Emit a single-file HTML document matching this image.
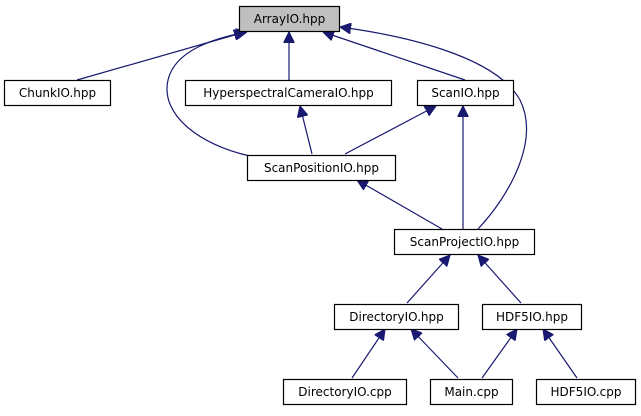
<!DOCTYPE html>
<html><head><meta charset="utf-8"><style>
html,body{margin:0;padding:0;background:#fff;}
svg text{font-family:"DejaVu Sans","Liberation Sans",sans-serif;font-size:12px;fill:#000;text-anchor:middle;}
</style></head><body>
<svg width="641" height="411" viewBox="0 0 641 411" xmlns="http://www.w3.org/2000/svg">
<defs>
<marker id="a" viewBox="0 0 10 10" refX="10" refY="5" markerWidth="11" markerHeight="11" markerUnits="userSpaceOnUse" orient="auto">
<path d="M0,0 L10,5 L0,10 z" fill="#191970" stroke="#191970"/>
</marker>
</defs>
<g fill="none" stroke="#191970" stroke-width="1.2" marker-end="url(#a)">
<path d="M77,80 L245,32"/>
<path d="M250,156 C200,145 160,115 168,80 C175,50 215,38 247,32"/>
<path d="M289,80 L289,32"/>
<path d="M465,80 L323,32"/>
<path d="M478,229 C510,195 540,140 520,100 C495,55 400,35 340,27"/>
<path d="M312,154 L300,106"/>
<path d="M345,154 L436,106"/>
<path d="M463,229 L463,106"/>
<path d="M442,229 L357,180"/>
<path d="M407,303 L450,255"/>
<path d="M521,303 L478,255"/>
<path d="M352,378 L385,329"/>
<path d="M458,378 L411,329"/>
<path d="M482,378 L517,329"/>
<path d="M577,378 L543,329"/>
</g>
<g stroke="#000" stroke-width="1.2">
<rect x="239.5" y="6.5" width="100" height="25" fill="#bfbfbf"/>
<rect x="4.5" y="80.5" width="106" height="25" fill="#fff"/>
<rect x="185.5" y="80.5" width="206" height="25" fill="#fff"/>
<rect x="417.5" y="80.5" width="96" height="25" fill="#fff"/>
<rect x="247.5" y="155.5" width="148" height="25" fill="#fff"/>
<rect x="394.5" y="229.5" width="140" height="25" fill="#fff"/>
<rect x="334.5" y="304.5" width="124" height="25" fill="#fff"/>
<rect x="482.5" y="304.5" width="99" height="25" fill="#fff"/>
<rect x="283.5" y="379.5" width="123" height="25" fill="#fff"/>
<rect x="430.5" y="379.5" width="82" height="25" fill="#fff"/>
<rect x="536.5" y="379.5" width="99" height="25" fill="#fff"/>
</g>
<text x="289.5" y="23">ArrayIO.hpp</text>
<text x="57.5" y="97">ChunkIO.hpp</text>
<text x="288.5" y="97">HyperspectralCameraIO.hpp</text>
<text x="465.5" y="97">ScanIO.hpp</text>
<text x="321.5" y="172">ScanPositionIO.hpp</text>
<text x="464.5" y="246">ScanProjectIO.hpp</text>
<text x="396.5" y="321">DirectoryIO.hpp</text>
<text x="532" y="321">HDF5IO.hpp</text>
<text x="345" y="396">DirectoryIO.cpp</text>
<text x="471.5" y="396">Main.cpp</text>
<text x="586" y="396">HDF5IO.cpp</text>
</svg>
</body></html>
